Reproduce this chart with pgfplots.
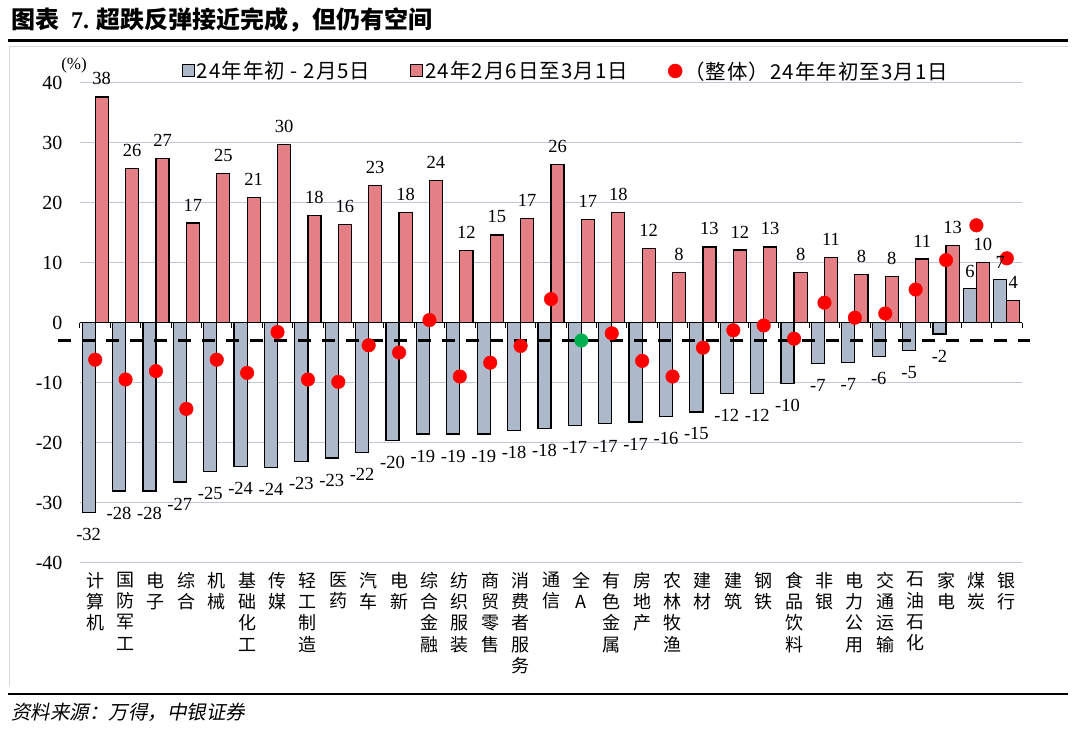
\documentclass[border=0pt]{standalone}
\usepackage{fontspec}
\setmainfont{Liberation Serif}
\newfontfamily\cjk{Noto Sans CJK SC}
\newfontfamily\cjkleg[LetterSpace=5]{Noto Sans CJK SC}
\newfontfamily\cjkit[FakeSlant=0.2]{Noto Sans CJK SC}
\usepackage{pgfplots}
\usepackage{pgfplotstable}
\pgfplotsset{compat=1.18}
\definecolor{bgrey}{RGB}{173,185,202}
\definecolor{bpink}{RGB}{228,127,134}
\definecolor{gridc}{RGB}{192,200,214}
\definecolor{gdot}{RGB}{0,176,80}
\definecolor{framec}{RGB}{215,215,215}

% x  early(年初-2/5)  later(2/6-3/1)
\pgfplotstableread{
x a b
0 -31.7 37.6
1 -28.1 25.7
2 -28.1 27.4
3 -26.6 16.6
4 -24.9 24.8
5 -24.0 20.8
6 -24.2 29.7
7 -23.2 17.9
8 -22.6 16.3
9 -21.7 22.8
10 -19.7 18.4
11 -18.6 23.7
12 -18.6 12.0
13 -18.6 14.6
14 -18.0 17.4
15 -17.7 26.3
16 -17.2 17.2
17 -16.9 18.3
18 -16.6 12.3
19 -15.7 8.3
20 -14.9 12.6
21 -11.8 12.1
22 -11.8 12.6
23 -10.1 8.4
24 -6.8 10.8
25 -6.6 8.0
26 -5.7 7.7
27 -4.6 10.6
28 -1.9 12.9
29 5.7 10.0
30 7.2 3.7
}\bars

% overall (年初至3/1), without 全A
\pgfplotstableread{
x c
0 -6.2
1 -9.5
2 -8.1
3 -14.4
4 -6.2
5 -8.4
6 -1.6
7 -9.5
8 -9.9
9 -3.8
10 -5.0
11 0.4
12 -9.0
13 -6.7
14 -3.9
15 3.9
17 -1.8
18 -6.4
19 -9.0
20 -4.2
21 -1.3
22 -0.5
23 -2.7
24 3.3
25 0.8
26 1.5
27 5.5
28 10.4
29 16.2
30 10.7
}\dots

\pgfplotsset{
  barlabel/.style={draw=none, mark=none, forget plot,
    visualization depends on={y \as \yv},
    nodes near coords={\pgfmathprintnumber[fixed,precision=0]{\pgfplotspointmeta}},
    every node near coord/.append style={font=\fontsize{18.5}{19}\selectfont, text=black,
      anchor=center, inner sep=0pt, yshift={ifthenelse(\yv<0,-22,#1)}}},
}

\begin{document}
\begin{tikzpicture}
\begin{scope}[shift={(-80pt,562.5pt)}, x=1pt, y=1pt]
\path[use as bounding box] (0,0) rectangle (1080,-736);
% title
\node[anchor=west, inner sep=0pt, font=\cjk\bfseries\fontsize{24}{26}\selectfont] at (11,-20)
  {图表\hspace{12pt}{\rmfamily\bfseries 7.}\hspace{7pt}超跌反弹接近完成，但仍有空间};
\draw[black, line width=2.5pt] (8,-40.5) -- (1068,-40.5);
\draw[framec, line width=1pt] (10,-686) -- (10,-47) -- (1068,-47);
\draw[black, line width=2pt] (8,-694) -- (1068,-694);
\node[anchor=west, inner sep=0pt, font=\cjkit\fontsize{19.5}{21}\selectfont] at (11,-712)
  {资料来源：万得，中银证券};
% (%) label
\node[font=\fontsize{17}{18}\selectfont, inner sep=0pt] at (74,-65.5) {(\%)};
\end{scope}

\begin{axis}[
  scale only axis, width=942pt, height=480pt,
  xmin=-0.5, xmax=30.5, ymin=-40, ymax=40,
  clip=false,
  axis line style={draw=none},
  tick style={draw=none},
  ytick={-40,-30,...,40},
  ymajorgrids,
  grid style={gridc, line width=0.9pt},
  /pgf/number format/assume math mode=true,
  yticklabel style={font=\fontsize{20}{21}\selectfont, xshift=-14pt},
  xtick={0,...,30},
  xticklabels={计\\算\\机,国\\防\\军\\工,电\\子,综\\合,机\\械,基\\础\\化\\工,传\\媒,轻\\工\\制\\造,医\\药,汽\\车,电\\新,综\\合\\金\\融,纺\\织\\服\\装,商\\贸\\零\\售,消\\费\\者\\服\\务,通\\信,全\\A,有\\色\\金\\属,房\\地\\产,农\\林\\牧\\渔,建\\材,建\\筑,钢\\铁,食\\品\\饮\\料,非\\银,电\\力\\公\\用,交\\通\\运\\输,石\\油\\石\\化,家\\电,煤\\炭,银\\行},
  xticklabel style={align=center, anchor=north, font=\cjk\fontsize{18}{21.3}\selectfont, yshift=-6pt},
  legend style={at={(0.516,1.024)}, anchor=center, draw=none, fill=none,
    font=\cjkleg\fontsize{20.5}{22}\selectfont, inner sep=0pt,
    /tikz/every even column/.append style={column sep=38pt}},
  legend columns=3,
]
\addplot[ybar, bar width=0.43, bar shift=-0.215, fill=bgrey, draw=black, line width=1.2pt,
  legend image code/.code={\draw[fill=bgrey, draw=black, line width=1pt] (0pt,-6pt) rectangle (12pt,6pt);}]
  table[x=x, y=a] {\bars};
\addlegendentry{24年年初 - 2月5日}
\addplot[ybar, bar width=0.43, bar shift=0.215, fill=bpink, draw=black, line width=1.2pt,
  legend image code/.code={\draw[fill=bpink, draw=black, line width=1pt] (0pt,-6pt) rectangle (12pt,6pt);}]
  table[x=x, y=b] {\bars};
\addlegendentry{24年2月6日至3月1日}
% zero line
\addplot[black, line width=1.5pt, forget plot] coordinates {(-0.5,0) (30.5,0)};
\pgfplotsinvokeforeach{-0.5,0.5,...,30.5}{\draw[black, line width=1pt] (axis cs:#1,0) -- ++(0pt,-5pt);}
% dashed reference (全A)
\addplot[black, line width=3pt, dash pattern=on 13pt off 11pt, forget plot] coordinates {(-1.22,-3) (30.76,-3)};
\addplot[only marks, mark=*, mark size=6.8pt, color=red,
  legend image code/.code={\fill[red] (7pt,0pt) circle (7pt);}]
  table[x=x, y=c] {\dots};
\addlegendentry{（整体）24年年初至3月1日}
\addplot[only marks, mark=*, mark size=6.8pt, color=gdot, forget plot] coordinates {(16,-3.0)};
% data labels on top
\addplot[barlabel=17] table[x expr=\thisrow{x}-0.215, y=a] {\bars};
\addplot[barlabel=18] table[x expr=\thisrow{x}+0.215, y=b] {\bars};
\end{axis}
\end{tikzpicture}
\end{document}
